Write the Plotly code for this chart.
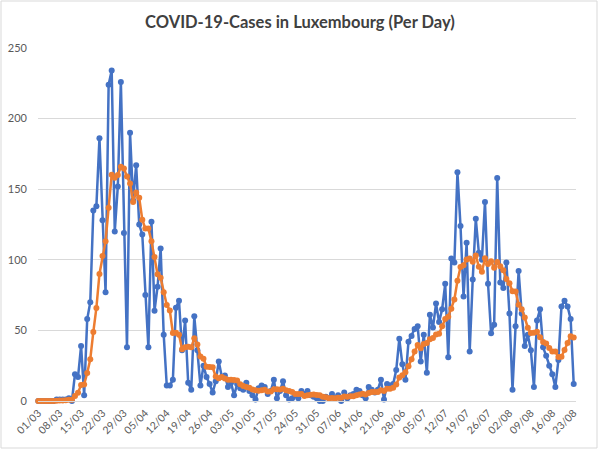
import pandas as pd
import plotly.graph_objects as go

start_date = "2020-03-01"
end_date = "2020-08-23"

daily_cases = [
    0, 0, 0, 0, 0, 0, 1, 1, 1, 1, 2, 0,
    19, 17, 39, 4, 58, 70, 135, 138, 186, 128, 77, 224, 234, 120, 152, 226, 119, 38,
    190, 142, 167, 125, 118, 75, 38, 127, 64, 81, 108, 47, 11, 11, 15, 66, 71, 36,
    57, 13, 8, 60, 36, 11, 25, 17, 12, 6, 14, 28,
    17, 18, 10, 13, 4, 12, 9, 8, 13, 7, 4, 1, 9, 11, 10, 5, 7, 15, 2, 7, 14, 4, 1, 2,
    4, 2, 7, 5, 7, 4, 3, 2, 0, 0, 3, 2, 5, 2, 4, 0, 6, 2, 4, 5, 8, 7, 4, 2, 10, 8, 6, 8,
    15, 1, 12, 11, 12, 22, 44, 26, 15, 42, 46, 51, 53, 28, 47, 20, 61, 52, 69, 56, 65,
    83, 31, 101, 98, 162, 124, 74, 112, 35, 86, 129, 105, 100, 141, 83, 48, 54, 158,
    84, 80, 98, 62, 8, 53, 92, 62, 39, 47, 36, 10, 57, 65, 38, 32, 25, 19, 10, 29, 67,
    71, 67, 58, 12,
]

avg_cases = [
    0, 0, 0, 0, 0, 0, 0.1, 0.3, 0.4, 0.6, 0.9, 0.9,
    3.6, 5.9, 11.3, 11.7, 19.9, 29.6, 48.9, 65.9, 90.0, 102.7, 113.1, 136.9, 160.3,
    158.1, 160.1, 165.9, 164.6, 159.0,
    154.1, 141.0, 147.7, 143.9, 128.4, 122.1, 122.1, 113.1, 102.0, 89.7, 87.3, 77.1,
    68.0, 64.1, 48.1, 48.4, 47.0, 36.7,
    38.1, 38.4, 38.0, 44.4, 40.1, 31.6, 30.0, 24.3, 24.1, 23.9, 17.3, 16.1,
    17.0, 16.0, 15.0, 15.1, 14.9, 14.6, 11.9, 10.6, 9.9, 9.4, 8.1, 7.7, 7.3, 7.6, 7.9,
    6.7, 6.7, 8.3, 8.4, 8.1, 8.6, 7.7, 7.1, 6.4,
    4.9, 4.9, 4.9, 3.6, 4.0, 4.4, 4.6, 4.3, 4.0, 3.0, 2.7, 2.0, 2.1, 2.0, 2.3, 2.3,
    3.1, 3.0, 3.3, 3.3, 4.1, 4.6, 5.1, 4.6, 5.7, 6.3, 6.4, 6.4,
    7.6, 7.1, 8.6, 8.7, 9.3, 11.6, 16.7, 18.3, 20.3, 24.6, 29.6, 35.1, 39.6, 37.3,
    40.3, 41.0, 43.7, 44.6, 47.1, 47.6, 52.9,
    58.0, 59.6, 65.3, 71.9, 85.1, 94.9, 96.1, 100.3, 100.9, 98.7, 103.1, 95.0, 91.6,
    101.1, 97.0, 98.9, 94.3, 98.4,
    95.4, 92.6, 86.4, 83.4, 77.7, 77.6, 68.1, 65.0, 59.1, 51.9, 48.1, 48.4, 49.0, 45.1,
    41.7, 40.7, 37.6, 35.1, 35.1, 31.1, 31.4,
    36.1, 41.1, 45.9, 44.9,
]

tick_labels = [
    "01/03", "08/03", "15/03", "22/03", "29/03", "05/04", "12/04", "19/04", "26/04",
    "03/05", "10/05", "17/05", "24/05", "31/05", "07/06", "14/06", "21/06", "28/06",
    "05/07", "12/07", "19/07", "26/07", "02/08", "09/08", "16/08", "23/08",
]

dates = pd.date_range(start_date, end_date, freq="D")
tick_dates = pd.date_range(start_date, end_date, freq="7D")

BLUE = "#4472C4"
ORANGE = "#ED7D31"
FONT = "Lato"

fig = go.Figure()
fig.add_trace(go.Scatter(
    x=dates, y=daily_cases, mode="lines+markers",
    line=dict(color=BLUE, width=2.5),
    marker=dict(color=BLUE, size=6),
    cliponaxis=False, showlegend=False,
))
fig.add_trace(go.Scatter(
    x=dates, y=avg_cases, mode="lines+markers",
    line=dict(color=ORANGE, width=2.5),
    marker=dict(color=ORANGE, size=6),
    cliponaxis=False, showlegend=False,
))

x_start = pd.Timestamp(start_date) - pd.Timedelta(hours=2)
x_end = pd.Timestamp(end_date) + pd.Timedelta(hours=18)

fig.update_layout(
    width=600, height=449,
    margin=dict(l=38, r=24, t=48, b=48, autoexpand=False),
    paper_bgcolor="white", plot_bgcolor="white",
    font=dict(family=FONT, color="#595959", size=11),
    title=dict(
        text="<b>COVID-19-Cases in Luxembourg (Per Day)</b>",
        x=0.5, xanchor="center", y=0.95, yanchor="middle",
        yref="container",
        font=dict(family=FONT, size=16.5, color="#404040"),
    ),
    xaxis=dict(
        range=[x_start, x_end], automargin=False,
        tickmode="array", tickvals=tick_dates, ticktext=tick_labels,
        tickangle=-45, tickfont=dict(size=10.5, color="#595959"),
        showgrid=False, zeroline=False,
        showline=True, linecolor="#d9d9d9", linewidth=1,
        ticks="", ticklabelstandoff=1,
    ),
    yaxis=dict(
        range=[0, 250], tickvals=[0, 50, 100, 150, 200, 250], automargin=False,
        showgrid=True, gridcolor="#d9d9d9", gridwidth=1,
        zeroline=False, showline=False, ticks="",
        tickfont=dict(size=11, color="#595959"),
        ticklabelstandoff=10,
    ),
    shapes=[dict(
        type="rect", xref="paper", yref="paper",
        x0=(1 - 38) / 538, x1=(597 - 38) / 538,
        y0=(401 - 448) / 353, y1=(401 - 1) / 353,
        line=dict(color="#d9d9d9", width=1), fillcolor="rgba(0,0,0,0)",
        layer="below",
    )],
)

fig.write_html(
    "out.html",
    config={"displayModeBar": False},
    post_script="document.body.style.margin='0';",
)
